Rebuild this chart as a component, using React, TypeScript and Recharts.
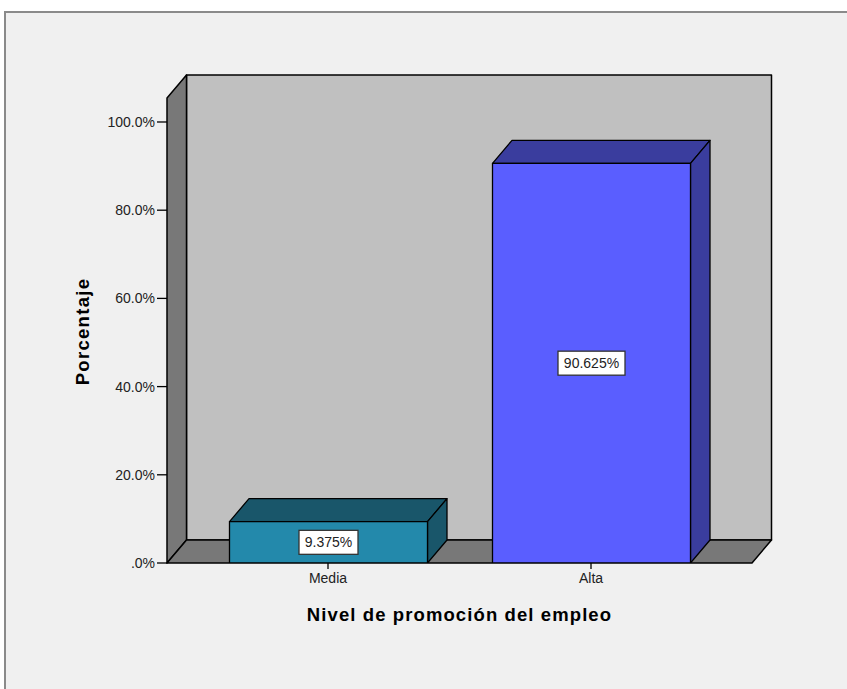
import { BarChart, Bar, XAxis, YAxis, ReferenceArea, LabelList, Label } from 'recharts';

const categories = ['Media', 'Alta'];
const percentages = [9.375, 90.625];
const yTicks = [0, 20, 40, 60, 80, 100];
const frontColors = ['#2389ab', '#5a5eff'];
const topColors = ['#19566a', '#3a3d9e'];

const FONT = '"Liberation Sans", Arial, sans-serif';
const DX = 19.5;
const DY = 23;
const Y_MAX = 105.44;

const data = categories.map((name, i) => ({ name, value: percentages[i] }));

function Walls(props: any) {
  const { x, y, width, height } = props;
  const b = y + height;
  const r = x + width;
  return (
    <g stroke="#000" strokeWidth={1.5} strokeLinejoin="round">
      <rect x={x + DX} y={y - DY} width={width} height={height} fill="#c0c0c0" />
      <polygon points={`${x},${y} ${x + DX},${y - DY} ${x + DX},${b - DY} ${x},${b}`} fill="#787878" />
      <polygon points={`${x},${b} ${x + DX},${b - DY} ${r + DX},${b - DY} ${r},${b}`} fill="#787878" />
    </g>
  );
}

function Box3D(props: any) {
  const { x, y, width, height, index } = props;
  const r = x + width;
  const b = y + height;
  return (
    <g stroke="#000" strokeWidth={1.3} strokeLinejoin="round">
      <polygon points={`${x},${y} ${x + DX},${y - DY} ${r + DX},${y - DY} ${r},${y}`} fill={topColors[index]} />
      <polygon points={`${r},${y} ${r + DX},${y - DY} ${r + DX},${b - DY} ${r},${b}`} fill={topColors[index]} />
      <rect x={x} y={y} width={width} height={height} fill={frontColors[index]} />
    </g>
  );
}

function ValueBox(props: any) {
  const { x, y, width, height, value } = props;
  const text = `${value}%`;
  const w = text.length * 8 + 11;
  const h = 24;
  const cx = x + width / 2;
  const cy = y + height / 2;
  return (
    <g>
      <rect x={cx - w / 2} y={cy - h / 2} width={w} height={h} fill="#fff" stroke="#333" strokeWidth={1.3} />
      <text x={cx} y={cy} textAnchor="middle" dominantBaseline="central" fontSize={14} fontFamily={FONT} fill="#222">
        {text}
      </text>
    </g>
  );
}

export default function App() {
  return (
    <div style={{ position: 'absolute', left: 0, top: 0, width: 847, height: 689, background: '#fff', overflow: 'hidden' }}>
      <div
        style={{
          position: 'absolute',
          left: 4,
          top: 11,
          width: 860,
          height: 700,
          background: '#f0f0f0',
          borderTop: '2px solid #8a8a8a',
          borderLeft: '2px solid #8a8a8a',
        }}
      />
      <div style={{ position: 'absolute', left: 0, top: 0 }}>
        <BarChart width={847} height={689} data={data} margin={{ top: 98, right: 95, left: 67, bottom: 56 }}>
          <XAxis xAxisId="wall" type="number" domain={[0, 1]} hide />
          <XAxis
            dataKey="name"
            axisLine={false}
            tickLine={{ stroke: '#000', strokeWidth: 1.3 }}
            tickSize={6}
            tickMargin={4}
            height={70}
            padding={{ left: 29.5, right: 29.5 }}
            tick={{ fontSize: 14, fontFamily: FONT, fill: '#222' }}
            interval={0}
          >
            <Label
              content={(p: any) => {
                const vb = p.viewBox;
                return (
                  <text x={vb.x + vb.width / 2} y={621} textAnchor="middle" fontSize={18.5} letterSpacing={1.1} fontWeight="bold" fontFamily={FONT} fill="#000">
                    Nivel de promoción del empleo
                  </text>
                );
              }}
            />
          </XAxis>
          <YAxis
            domain={[0, Y_MAX]}
            ticks={yTicks}
            allowDataOverflow
            axisLine={false}
            tickLine={{ stroke: '#000', strokeWidth: 1.3 }}
            tickSize={10}
            tickMargin={2}
            width={100}
            tick={{ fontSize: 14, fontFamily: FONT, fill: '#222' }}
            tickFormatter={(v: number) => (v === 0 ? '.0%' : `${v.toFixed(1)}%`)}
          >
            <Label
              content={(p: any) => {
                const vb = p.viewBox;
                const cy = vb.y + vb.height / 2 + 1;
                return (
                  <text x={88.5} y={cy} transform={`rotate(-90, 88.5, ${cy})`} textAnchor="middle" fontSize={18.5} letterSpacing={1.3} fontWeight="bold" fontFamily={FONT} fill="#000">
                    Porcentaje
                  </text>
                );
              }}
            />
          </YAxis>
          <ReferenceArea xAxisId="wall" x1={0} x2={1} y1={0} y2={Y_MAX} shape={<Walls />} ifOverflow="visible" />
          <Bar dataKey="value" barSize={198} shape={<Box3D />} isAnimationActive={false}>
            <LabelList dataKey="value" content={<ValueBox />} />
          </Bar>
        </BarChart>
      </div>
    </div>
  );
}
